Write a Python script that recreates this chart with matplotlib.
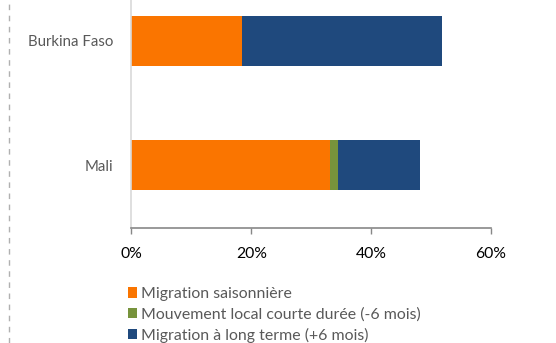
import numpy as np
import matplotlib
matplotlib.use("Agg")
import matplotlib.pyplot as plt
from matplotlib.lines import Line2D

plt.rcParams['font.family'] = ['Lato', 'DejaVu Sans']

countries = ["Mali", "Burkina Faso"]
series_names = ["Migration saisonnière",
                "Mouvement local courte durée (-6 mois)",
                "Migration à long terme (+6 mois)"]
saisonniere = [33.1, 18.4]
local_court = [1.4, 0.0]
long_terme = [13.7, 33.5]
xticks = [0, 20, 40, 60]
xtick_labels = ["0%", "20%", "40%", "60%"]

colors = ["#FA7500", "#77933C", "#1F497D"]

fig = plt.figure(figsize=(5.56, 3.43), dpi=100)
ax = fig.add_axes([0.2365, 0.335, 0.883 - 0.2365, 0.665])

y = np.arange(len(countries))
left = np.zeros(len(countries))
handles = []
for name, vals, c in zip(series_names, [saisonniere, local_court, long_terme], colors):
    b = ax.barh(y, vals, left=left, height=0.403, color=c, label=name)
    handles.append(b)
    left = left + np.array(vals)

ax.set_xlim(0, 60)
ax.set_ylim(-0.508, 1.33)
ax.set_yticks(y)
ax.set_yticklabels(countries, fontsize=10.8, color="#595959")
ax.tick_params(axis="y", length=0, pad=13)
ax.set_xticks(xticks)
ax.set_xticklabels(xtick_labels, fontsize=11.3, color="black")
ax.tick_params(axis="x", direction="out", length=4, width=1, color="#888888", pad=9.5)

for s in ["top", "right"]:
    ax.spines[s].set_visible(False)
ax.spines["left"].set_color("#d9d9d9")
ax.spines["left"].set_linewidth(1.2)
ax.spines["bottom"].set_color("#888888")
ax.spines["bottom"].set_linewidth(1.2)

leg = fig.legend(handles=handles, loc="upper left", bbox_to_anchor=(0.230, 0.163),
                 frameon=False, fontsize=11.4, handlelength=0.6, handleheight=0.6,
                 handletextpad=0.25, labelspacing=0.38, borderaxespad=0, borderpad=0)
for t in leg.get_texts():
    t.set_color("#595959")

# dashed border line at left
fig.add_artist(Line2D([9 / 556, 9 / 556], [0, 1], transform=fig.transFigure,
                      color="#b0b0b0", linestyle=(0, (4, 4)), linewidth=1))

fig.savefig("out.png", dpi=100)
